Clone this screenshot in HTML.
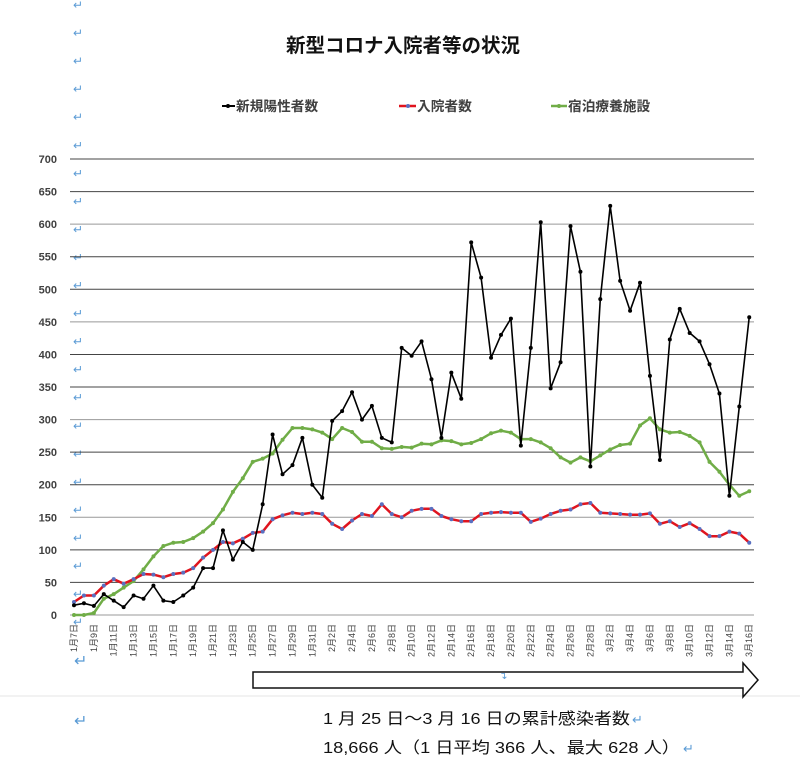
<!DOCTYPE html>
<html><head><meta charset="utf-8"><style>
html,body{margin:0;padding:0;background:#fff;}
svg{display:block;font-family:"Liberation Sans","Noto Sans CJK JP",sans-serif;}
</style></head><body>
<svg id="s" width="800" height="774" viewBox="0 0 800 774" xmlns="http://www.w3.org/2000/svg">
<g id="ret" fill="#5b9bd5" font-size="12"></g>
<text x="403" y="52" text-anchor="middle" font-size="19.5" font-weight="bold" fill="#111">新型コロナ入院者等の状況</text>
<g font-size="13.7" font-weight="bold" fill="#404040">
<line x1="222" y1="106" x2="235" y2="106" stroke="#000" stroke-width="2"/><circle cx="228" cy="106" r="2" fill="#000"/>
<text x="236" y="111">新規陽性者数</text>
<line x1="399" y1="106" x2="416" y2="106" stroke="#e0141e" stroke-width="2.5"/><circle cx="408" cy="106" r="2" fill="#5a6fc0"/>
<text x="417" y="111">入院者数</text>
<line x1="551" y1="106" x2="567" y2="106" stroke="#70ad47" stroke-width="2.5"/><circle cx="559" cy="106" r="2" fill="#70ad47"/>
<text x="568" y="111">宿泊療養施設</text>
</g>
<g id="grid"></g>
<g id="ylab" font-size="11" font-weight="bold" fill="#404040" text-anchor="end"></g>
<g id="xlab" font-size="9" fill="#404040"></g>
<g id="series"></g>
<line x1="0" y1="696" x2="800" y2="696" stroke="#e6e6e6" stroke-width="1"/>
<path d="M253 672 H743 V663 L758 680 L743 697 V688 H253 Z" fill="#fff" stroke="#111" stroke-width="1.5"/>
<text x="499" y="679" fill="#5b9bd5" font-size="10">↴</text>
<text x="323" y="724" font-size="16" fill="#111" textLength="307" lengthAdjust="spacingAndGlyphs">1 月 25 日～3 月 16 日の累計感染者数</text>
<text x="632" y="724" font-size="13" fill="#5b9bd5">↵</text>
<text x="323" y="753" font-size="16" fill="#111" textLength="357" lengthAdjust="spacingAndGlyphs">18,666 人（1 日平均 366 人、最大 628 人）</text>
<text x="683" y="753" font-size="13" fill="#5b9bd5">↵</text>
<text x="74" y="666" font-size="16" fill="#5b9bd5">↵</text>
<text x="74" y="726" font-size="16" fill="#5b9bd5">↵</text>
</svg>
<script>
var NS="http://www.w3.org/2000/svg";
function el(p,t,a,txt){var e=document.createElementNS(NS,t);for(var k in a)e.setAttribute(k,a[k]);if(txt)e.textContent=txt;document.getElementById(p).appendChild(e);return e;}
for(var i=0;i<23;i++){el("ret","text",{x:73,y:9+i*28.05},"↵");}
function Y(v){return 615-v*0.6514;}
function X(i){return 74+i*9.93;}
for(var v=0;v<=700;v+=50){
 el("grid","line",{x1:70,x2:754,y1:Y(v),y2:Y(v),stroke:(v/50)%3==0?"#999":"#444","stroke-width":1});
 el("ylab","text",{x:57,y:Y(v)+4},String(v));
}
var dates=[];
for(var d=7;d<=31;d++)dates.push("1月"+d+"日");
for(var d=1;d<=28;d++)dates.push("2月"+d+"日");
for(var d=1;d<=16;d++)dates.push("3月"+d+"日");
for(var i=0;i<dates.length;i+=2){
 var x=X(i)+3;
 el("xlab","text",{x:0,y:0,transform:"translate("+x+",624) rotate(-90)","text-anchor":"end"},dates[i]);
}
var blk=[15,18,14,32,22,12,30,25,45,22,20,30,42,72,72,130,85,112,100,170,277,216,230,272,200,
180,298,313,342,300,321,272,265,410,398,420,362,272,372,332,572,518,395,430,455,260,410,603,348,388,597,527,228,
485,628,513,467,510,367,238,423,470,433,420,385,340,183,320,457];
var red=[20,30,30,45,55,48,55,63,62,58,63,65,72,88,100,112,110,117,126,128,147,153,157,155,157,
155,140,132,145,155,152,170,155,150,160,163,163,152,147,144,144,155,157,158,157,157,143,148,155,160,162,170,172,
157,156,155,154,154,156,140,144,135,141,132,121,121,128,125,111];
var grn=[0,0,3,25,32,42,52,70,90,106,111,112,118,128,141,162,189,210,235,240,248,269,287,287,285,
280,270,287,281,266,266,256,255,258,257,263,262,268,267,262,264,270,279,283,280,270,270,265,256,242,234,242,236,
245,254,261,263,291,302,285,280,281,275,265,235,220,200,183,190];
function series(d,col,w,mk){
 var p=d.map(function(v,i){return X(i).toFixed(1)+","+Y(v).toFixed(1);}).join(" ");
 el("series","polyline",{points:p,fill:"none",stroke:col,"stroke-width":w,"stroke-linejoin":"round"});
 d.forEach(function(v,i){el("series","circle",{cx:X(i),cy:Y(v),r:2,fill:mk});});
}
series(grn,"#70ad47",2.5,"#70ad47");
series(red,"#e0141e",2.5,"#5a6fc0");
series(blk,"#000",1.6,"#000");
</script>
</body></html>
